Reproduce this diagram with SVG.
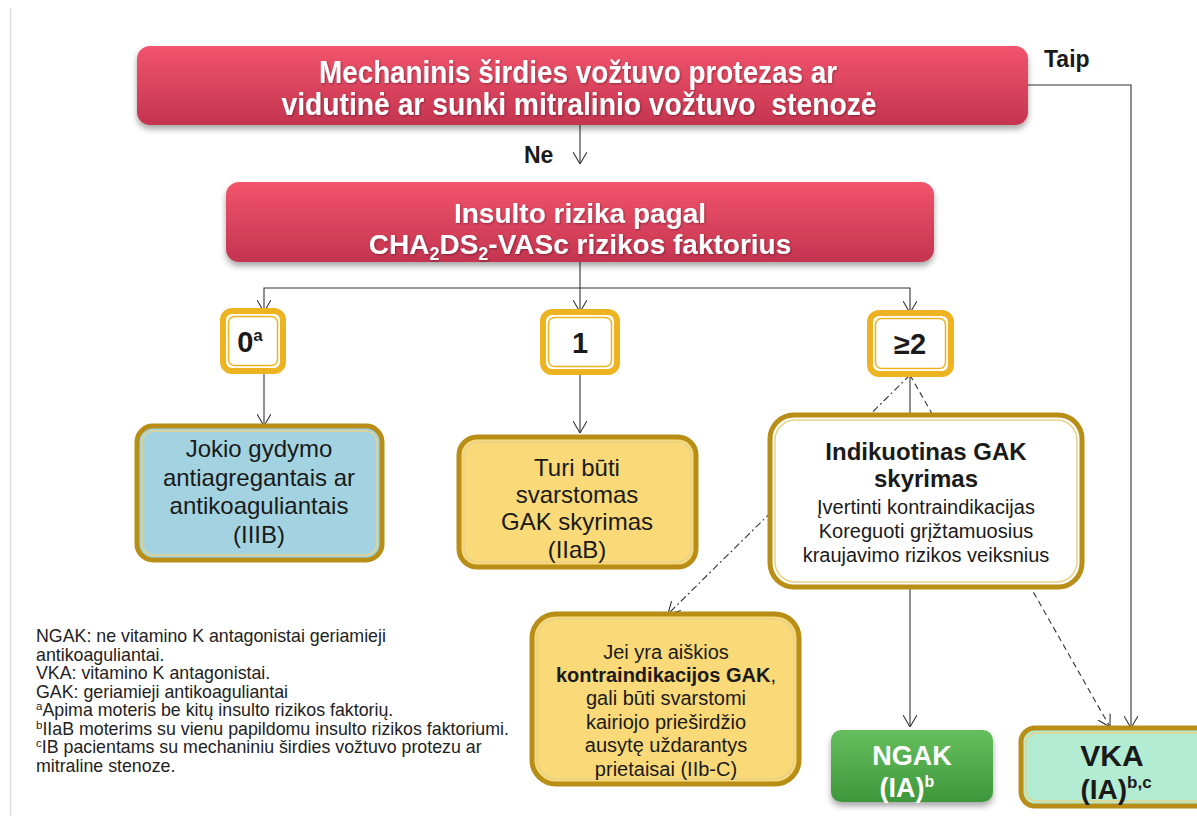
<svg xmlns="http://www.w3.org/2000/svg" width="1197" height="816" viewBox="0 0 1197 816">
  <style>
    .sans { font-family: "Liberation Sans", Arial, sans-serif; }
    .narrow { font-family: "Liberation Sans Narrow", "Liberation Sans", Arial, sans-serif; font-weight: bold; }
    .white { fill: #ffffff; }
    .dark { fill: #1a1a1a; }
    .conn { stroke: #333333; stroke-width: 1.1; fill: none; }
    .gold-outer { fill: none; stroke: #b88e16; stroke-width: 5; }
    .gold-inner { fill: none; stroke: #e6d28a; stroke-width: 1.5; }
    .score-outer { fill: #ffffff; stroke: #eeb320; stroke-width: 6; }
    .score-inner { fill: none; stroke: #eeb320; stroke-width: 1.5; }
    .legend { font-family: "Liberation Sans", Arial, sans-serif; font-size: 17.8px; fill: #222222; }
  </style>
  <defs>
    <linearGradient id="redGrad" x1="0" y1="0" x2="0" y2="1">
      <stop offset="0" stop-color="#f2546c"/>
      <stop offset="1" stop-color="#c4344f"/>
    </linearGradient>
    <linearGradient id="greenGrad" x1="0" y1="0" x2="0" y2="1">
      <stop offset="0" stop-color="#66bf5e"/>
      <stop offset="1" stop-color="#3e973c"/>
    </linearGradient>
    <filter id="shadow" x="-5%" y="-10%" width="110%" height="130%">
      <feDropShadow dx="0" dy="4" stdDeviation="3" flood-color="#000000" flood-opacity="0.35"/>
    </filter>
    <filter id="txtShadow" x="-5%" y="-20%" width="110%" height="150%">
      <feDropShadow dx="1" dy="1" stdDeviation="0.8" flood-color="#000000" flood-opacity="0.35"/>
    </filter>
    <marker id="arrow" viewBox="0 0 12 14" refX="12" refY="7" markerWidth="12" markerHeight="14" markerUnits="userSpaceOnUse" orient="auto">
      <path d="M0,0 L12,7 L0,14" fill="none" stroke="#333333" stroke-width="1.1"/>
    </marker>
  </defs>

  <rect width="1197" height="816" fill="#ffffff"/>
  <!-- page edge -->
  <line x1="10.5" y1="8" x2="10.5" y2="816" stroke="#dcdcdc" stroke-width="1.5"/>

  <!-- connectors -->
  <g id="connectors">
    <line class="conn" x1="580" y1="125" x2="580" y2="164" marker-end="url(#arrow)"/>
    <polyline class="conn" points="1028,85 1131,85 1131,728" marker-end="url(#arrow)"/>
    <line class="conn" x1="580" y1="262" x2="580" y2="312" marker-end="url(#arrow)"/>
    <polyline class="conn" points="580,288 264,288 264,312" marker-end="url(#arrow)"/>
    <polyline class="conn" points="580,288 910,288 910,313" marker-end="url(#arrow)"/>
    <line class="conn" x1="264" y1="371" x2="264" y2="426" marker-end="url(#arrow)"/>
    <line class="conn" x1="580" y1="372" x2="580" y2="433" marker-end="url(#arrow)"/>
    <line class="conn" x1="910" y1="375" x2="910" y2="413"/>
    <line class="conn" x1="910" y1="375" x2="668" y2="614" stroke-dasharray="7,3,2,3" marker-end="url(#arrow)"/>
    <line class="conn" x1="910" y1="375" x2="1110" y2="727" stroke-dasharray="6,4" marker-end="url(#arrow)"/>
    <line class="conn" x1="910" y1="588" x2="910" y2="727" marker-end="url(#arrow)"/>
  </g>

  <!-- top question -->
  <g id="node-valve">
    <rect x="137" y="46" width="891" height="79" rx="13" fill="url(#redGrad)" filter="url(#shadow)"/>
    <g class="narrow white" font-size="31" text-anchor="middle" filter="url(#txtShadow)">
      <text x="578" y="83" textLength="518" lengthAdjust="spacingAndGlyphs">Mechaninis širdies vožtuvo protezas ar</text>
      <text x="579" y="115" textLength="595" lengthAdjust="spacingAndGlyphs">vidutinė ar sunki mitralinio vožtuvo&#160; stenozė</text>
    </g>
  </g>

  <g id="label-taip">
    <text class="sans dark" x="1044" y="67" font-size="23" font-weight="bold">Taip</text>
  </g>
  <g id="label-ne">
    <text class="sans dark" x="524" y="163" font-size="23" font-weight="bold">Ne</text>
  </g>

  <!-- stroke risk -->
  <g id="node-risk">
    <rect x="226" y="182" width="708" height="80" rx="13" fill="url(#redGrad)" filter="url(#shadow)"/>
    <g class="sans white" font-size="28" font-weight="bold" text-anchor="middle" filter="url(#txtShadow)">
      <text x="580" y="223">Insulto rizika pagal</text>
      <text x="580" y="254">CHA<tspan font-size="18" dy="6">2</tspan><tspan dy="-6">DS</tspan><tspan font-size="18" dy="6">2</tspan><tspan dy="-6">-VASc rizikos faktorius</tspan></text>
    </g>
  </g>

  <!-- scores -->
  <g id="node-score0">
    <rect class="score-outer" x="223" y="311" width="60" height="60" rx="9"/>
    <rect class="score-inner" x="228.5" y="316.5" width="49" height="49" rx="6"/>
    <text class="narrow dark" x="250" y="352" font-size="29" text-anchor="middle">0<tspan font-size="17" dy="-11">a</tspan></text>
  </g>
  <g id="node-score1">
    <rect class="score-outer" x="543" y="312" width="74" height="60" rx="9"/>
    <rect class="score-inner" x="548.5" y="317.5" width="63" height="49" rx="6"/>
    <text class="narrow dark" x="580" y="353" font-size="29" text-anchor="middle">1</text>
  </g>
  <g id="node-score2">
    <rect class="score-outer" x="870" y="313" width="81" height="61" rx="9"/>
    <rect class="score-inner" x="875.5" y="318.5" width="70" height="50" rx="6"/>
    <text class="narrow dark" x="910" y="354" font-size="29" text-anchor="middle">≥2</text>
  </g>

  <!-- outcomes for score 0 and 1 -->
  <g id="node-none">
    <rect x="137" y="426" width="245" height="134" rx="16" fill="#a3d3e0"/>
    <rect class="gold-outer" x="137" y="426" width="245" height="134" rx="16"/>
    <rect class="gold-inner" x="142" y="431" width="235" height="124" rx="12"/>
    <g class="sans dark" font-size="24" text-anchor="middle">
      <text x="259" y="457">Jokio gydymo</text>
      <text x="259" y="486">antiagregantais ar</text>
      <text x="259" y="514">antikoaguliantais</text>
      <text x="259" y="543">(IIIB)</text>
    </g>
  </g>
  <g id="node-consider">
    <rect x="459" y="437" width="237" height="130" rx="18" fill="#f9d978"/>
    <rect class="gold-outer" x="459" y="437" width="237" height="130" rx="18"/>
    <rect class="gold-inner" x="464" y="442" width="227" height="120" rx="14"/>
    <g class="sans dark" font-size="24" text-anchor="middle">
      <text x="577" y="476">Turi būti</text>
      <text x="577" y="503">svarstomas</text>
      <text x="577" y="530">GAK skyrimas</text>
      <text x="577" y="558">(IIaB)</text>
    </g>
  </g>

  <!-- score 2 or more -->
  <g id="node-indicated">
    <rect x="770" y="415" width="312" height="172" rx="24" fill="#ffffff"/>
    <rect class="gold-outer" x="770" y="415" width="312" height="172" rx="24"/>
    <rect class="gold-inner" x="775" y="420" width="302" height="162" rx="20"/>
    <g class="sans dark" text-anchor="middle">
      <text x="926" y="460" font-size="24" font-weight="bold">Indikuotinas GAK</text>
      <text x="926" y="487" font-size="24" font-weight="bold">skyrimas</text>
      <text x="926" y="514" font-size="20">Įvertinti kontraindikacijas</text>
      <text x="926" y="538" font-size="20">Koreguoti grįžtamuosius</text>
      <text x="926" y="562" font-size="20">kraujavimo rizikos veiksnius</text>
    </g>
  </g>

  <g id="node-laa">
    <rect x="532" y="614" width="267" height="170" rx="24" fill="#f9d978"/>
    <rect class="gold-outer" x="532" y="614" width="267" height="170" rx="24"/>
    <rect class="gold-inner" x="537" y="619" width="257" height="160" rx="20"/>
    <g class="sans dark" font-size="20" text-anchor="middle">
      <text x="666" y="659">Jei yra aiškios</text>
      <text x="666" y="682"><tspan font-weight="bold">kontraindikacijos GAK</tspan>,</text>
      <text x="666" y="705">gali būti svarstomi</text>
      <text x="666" y="729">kairiojo prieširdžio</text>
      <text x="666" y="752">ausytę uždarantys</text>
      <text x="666" y="776">prietaisai (IIb-C)</text>
    </g>
  </g>

  <g id="node-ngak">
    <rect x="831" y="730" width="162" height="72" rx="10" fill="url(#greenGrad)" filter="url(#shadow)"/>
    <g class="sans white" font-weight="bold" text-anchor="middle">
      <text x="912" y="765" font-size="27">NGAK</text>
      <text x="907" y="797" font-size="27">(IA)<tspan font-size="16" dy="-10">b</tspan></text>
    </g>
  </g>

  <g id="node-vka">
    <rect x="1021" y="728" width="190" height="78" rx="14" fill="#b2ecd2"/>
    <rect class="gold-outer" x="1021" y="728" width="190" height="78" rx="14"/>
    <rect class="gold-inner" x="1026" y="733" width="180" height="68" rx="10"/>
    <g class="sans dark" font-weight="bold" text-anchor="middle">
      <text x="1112" y="766" font-size="30">VKA</text>
      <text x="1116" y="799" font-size="28">(IA)<tspan font-size="17" dy="-11">b,c</tspan></text>
    </g>
  </g>

  <!-- abbreviations and footnotes -->
  <g id="legend" class="legend">
    <text x="36" y="642">NGAK: ne vitamino K antagonistai geriamieji</text>
    <text x="36" y="660.5">antikoaguliantai.</text>
    <text x="36" y="679">VKA: vitamino K antagonistai.</text>
    <text x="36" y="697.5">GAK: geriamieji antikoaguliantai</text>
    <text x="36" y="716"><tspan font-size="11.5" dy="-6">a</tspan><tspan dy="6">Apima moteris be kitų insulto rizikos faktorių.</tspan></text>
    <text x="36" y="734.5"><tspan font-size="11.5" dy="-6">b</tspan><tspan dy="6">IIaB moterims su vienu papildomu insulto rizikos faktoriumi.</tspan></text>
    <text x="36" y="753"><tspan font-size="11.5" dy="-6">c</tspan><tspan dy="6">IB pacientams su mechaniniu širdies vožtuvo protezu ar</tspan></text>
    <text x="36" y="771.5">mitraline stenoze.</text>
  </g>
</svg>
